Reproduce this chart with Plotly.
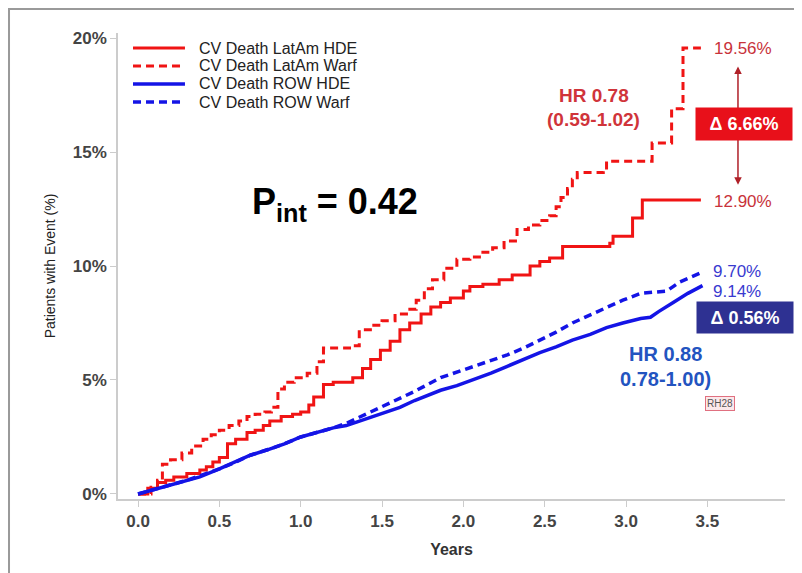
import plotly.graph_objects as go

# ---------------- data ----------------
latam_warf_t = [0, 0.08, 0.12, 0.15, 0.2, 0.27, 0.33, 0.4, 0.45, 0.5, 0.56, 0.62, 0.67, 0.72, 0.78,
                0.82, 0.86, 0.9, 0.96, 1.04, 1.1, 1.14, 1.3, 1.36, 1.44, 1.5, 1.58, 1.65, 1.71, 1.76,
                1.81, 1.88, 1.96, 2.04, 2.12, 2.18, 2.25, 2.33, 2.4, 2.47, 2.53, 2.57, 2.6, 2.64, 2.67,
                2.7, 2.86, 2.88, 3.16, 3.28, 3.35, 3.46]
latam_warf_v = [0, 0.3, 0.6, 1.3, 1.5, 1.8, 2.1, 2.4, 2.6, 2.8, 3.0, 3.2, 3.4, 3.5, 3.6,
                3.8, 4.6, 4.9, 5.1, 5.3, 5.8, 6.4, 6.5, 7.2, 7.4, 7.6, 7.9, 8.1, 8.5, 9.0,
                9.4, 9.9, 10.3, 10.4, 10.6, 10.8, 11.1, 11.6, 11.8, 12.0, 12.2, 12.6, 13.0, 13.4, 13.8,
                14.1, 14.2, 14.6, 15.4, 16.9, 19.56, 19.56]

latam_hde_t = [0, 0.06, 0.12, 0.17, 0.22, 0.3, 0.38, 0.42, 0.46, 0.5, 0.55, 0.6, 0.67, 0.72, 0.77,
               0.81, 0.88, 0.95, 1.0, 1.05, 1.08, 1.14, 1.2, 1.32, 1.38, 1.43, 1.49, 1.55, 1.61, 1.67,
               1.74, 1.8, 1.86, 1.92, 2.0, 2.04, 2.12, 2.22, 2.3, 2.41, 2.47, 2.53, 2.61, 2.9, 2.92,
               3.04, 3.1, 3.46]
latam_hde_v = [0, 0.25, 0.5, 0.6, 0.75, 0.9, 1.05, 1.2, 1.4, 1.6, 2.2, 2.4, 2.7, 2.8, 3.0,
               3.2, 3.4, 3.5, 3.6, 3.9, 4.25, 4.8, 4.9, 5.1, 5.5, 5.9, 6.3, 6.7, 7.2, 7.5,
               7.9, 8.2, 8.4, 8.6, 8.9, 9.1, 9.2, 9.4, 9.6, 10.0, 10.2, 10.35, 10.85, 11.0, 11.3,
               12.1, 12.9, 12.9]

row_hde_t = [0, 0.1, 0.2, 0.3, 0.38, 0.5, 0.6, 0.69, 0.8, 0.9, 1.0, 1.1, 1.2, 1.28, 1.4, 1.5, 1.61,
             1.7, 1.86, 1.96, 2.06, 2.17, 2.27, 2.37, 2.47, 2.57, 2.67, 2.78, 2.88, 2.98, 3.09, 3.15,
             3.2, 3.29, 3.38, 3.47]
row_hde_v = [0, 0.2, 0.4, 0.6, 0.75, 1.1, 1.4, 1.7, 1.95, 2.2, 2.5, 2.7, 2.9, 3.0, 3.3, 3.55, 3.8,
             4.1, 4.55, 4.75, 5.0, 5.3, 5.6, 5.9, 6.2, 6.45, 6.75, 7.0, 7.3, 7.5, 7.7, 7.75,
             8.0, 8.4, 8.8, 9.14]

row_warf_t = [0, 0.1, 0.2, 0.3, 0.38, 0.5, 0.6, 0.69, 0.8, 0.9, 1.0, 1.1, 1.2, 1.28, 1.4, 1.5, 1.61,
              1.7, 1.86, 1.96, 2.06, 2.17, 2.27, 2.37, 2.47, 2.57, 2.67, 2.78, 2.88, 2.98, 3.09, 3.18,
              3.25, 3.33, 3.4, 3.46]
row_warf_v = [0, 0.2, 0.4, 0.6, 0.8, 1.1, 1.4, 1.7, 1.95, 2.2, 2.5, 2.7, 2.9, 3.1, 3.5, 3.85, 4.2,
              4.5, 5.1, 5.35, 5.6, 5.85, 6.1, 6.4, 6.75, 7.1, 7.5, 7.85, 8.2, 8.5, 8.8, 8.85,
              8.9, 9.3, 9.5, 9.7]

series_names = ["CV Death LatAm HDE", "CV Death LatAm Warf", "CV Death ROW HDE", "CV Death ROW Warf"]
final_labels = ["12.90%", "19.56%", "9.14%", "9.70%"]
x_ticks = [0.0, 0.5, 1.0, 1.5, 2.0, 2.5, 3.0, 3.5]
y_ticks = [0, 5, 10, 15, 20]
y_tick_labels = ["<b>0%</b>", "<b>5%</b>", "<b>10%</b>", "<b>15%</b>", "<b>20%</b>"]
x_tick_labels = ["<b>0.0</b>", "<b>0.5</b>", "<b>1.0</b>", "<b>1.5</b>", "<b>2.0</b>", "<b>2.5</b>",
                 "<b>3.0</b>", "<b>3.5</b>"]

RED = "#f01414"
BLUE = "#1414e6"
LABEL_RED = "#c8323a"
LABEL_BLUE = "#3a3ad0"
HR_RED = "#d0343a"
HR_BLUE = "#2354c0"
FONT = "Liberation Sans, Arial, sans-serif"
DASH = "8px,5px"

styles = [dict(color=RED, width=3), dict(color=RED, width=3, dash=DASH),
          dict(color=BLUE, width=3.5), dict(color=BLUE, width=3.5, dash=DASH)]
shapes_kind = ["hv", "hv", "linear", "linear"]
xs = [latam_hde_t, latam_warf_t, row_hde_t, row_warf_t]
ys = [latam_hde_v, latam_warf_v, row_hde_v, row_warf_v]

fig = go.Figure()
for i in range(4):
    fig.add_trace(go.Scatter(x=xs[i], y=ys[i], mode="lines", line_shape=shapes_kind[i],
                             name=series_names[i], line=styles[i], showlegend=False))

ann = []
shapes = []
# legend drawn in paper coordinates (compact rows as in the reference)
leg_rows = [0.9678, 0.9292, 0.8906, 0.8519]
for i in range(4):
    shapes.append(dict(type="line", xref="paper", yref="paper", x0=0.0225, x1=0.1004,
                       y0=leg_rows[i], y1=leg_rows[i], line=styles[i]))
    ann.append(dict(x=0.1184, y=leg_rows[i], xref="paper", yref="paper", text=series_names[i],
                    xanchor="left", yanchor="middle", showarrow=False,
                    font=dict(size=16, color="#222", family=FONT)))

# final value labels
fin = [dict(x=3.53, y=19.56, text=final_labels[1], font=dict(color=LABEL_RED, size=17, family=FONT)),
       dict(x=3.53, y=12.85, text=final_labels[0], font=dict(color=LABEL_RED, size=17, family=FONT)),
       dict(x=3.52, y=9.78, text=final_labels[3], font=dict(color=LABEL_BLUE, size=17, family=FONT)),
       dict(x=3.52, y=8.86, text=final_labels[2], font=dict(color=LABEL_BLUE, size=17, family=FONT))]
for a in fin:
    a.update(xref="x", yref="y", xanchor="left", yanchor="middle", showarrow=False)
ann += fin

# HR labels
ann.append(dict(x=2.80, y=17.5, text="<b>HR 0.78</b>", xref="x", yref="y", showarrow=False,
                font=dict(color=HR_RED, size=19, family=FONT)))
ann.append(dict(x=2.80, y=16.42, text="<b>(0.59-1.02)</b>", xref="x", yref="y", showarrow=False,
                font=dict(color=HR_RED, size=19, family=FONT)))
ann.append(dict(x=3.245, y=6.14, text="<b>HR 0.88</b>", xref="x", yref="y", showarrow=False,
                font=dict(color=HR_BLUE, size=20, family=FONT)))
ann.append(dict(x=3.245, y=5.04, text="<b>0.78-1.00)</b>", xref="x", yref="y", showarrow=False,
                font=dict(color=HR_BLUE, size=20, family=FONT)))

# double arrow between LatAm final values
ann.append(dict(x=3.688, y=18.75, ax=3.688, ay=13.5, xref="x", yref="y", axref="x", ayref="y",
                text="", showarrow=True, arrowhead=2, startarrowhead=2, arrowside="end+start",
                arrowwidth=1.5, arrowcolor="#b02028", arrowsize=1))

# delta boxes
ann.append(dict(x=3.725, y=16.22, xref="x", yref="y", text="<b>\u0394 6.66%</b>", showarrow=False,
                bgcolor="#e8101a", width=94, height=30, font=dict(color="white", size=18, family=FONT)))
ann.append(dict(x=3.73, y=7.72, xref="x", yref="y", text="<b>\u0394 0.56%</b>", showarrow=False,
                bgcolor="#2e3192", width=94, height=29,
                font=dict(color="white", size=18, family=FONT)))

# P interaction
ann.append(dict(x=1.21, y=12.7, xref="x", yref="y", text="<b>P<sub>int</sub> = 0.42</b>", showarrow=False,
                font=dict(color="black", size=36, family=FONT)))

# small RH28 tag
ann.append(dict(x=3.58, y=3.95, xref="x", yref="y", text="RH28", showarrow=False,
                font=dict(color="#555", size=10, family=FONT), bordercolor="#e07080", borderwidth=1,
                bgcolor="#fbe8ea", borderpad=1))

# outer frame
shapes.append(dict(type="rect", xref="paper", yref="paper", x0=-0.1634, x1=1.0195, y0=-0.2, y1=1.0516,
                   line=dict(color="#9a9a9a", width=2), fillcolor="rgba(0,0,0,0)", layer="below"))

# the page body adds an 8px offset, so the figure is 8px smaller than the window
fig.update_layout(
    width=794, height=565,
    margin=dict(l=110, r=17, t=25, b=74),
    paper_bgcolor="white", plot_bgcolor="white",
    font=dict(family=FONT, color="#333"),
    showlegend=False,
    annotations=ann,
    shapes=shapes,
)

fig.update_xaxes(range=[-0.123, 3.977], tickvals=x_ticks, ticktext=x_tick_labels,
                 showline=True, linecolor="#cccccc", linewidth=1.5, mirror=False,
                 ticks="outside", ticklen=6, tickcolor="#cccccc", showgrid=False, zeroline=False,
                 tickfont=dict(size=17, color="#444", family=FONT),
                 title=dict(text="<b>Years</b>", font=dict(size=16, color="#333", family=FONT), standoff=14))
fig.update_yaxes(range=[-0.22, 20.22], tickvals=y_ticks, ticktext=y_tick_labels,
                 showline=True, linecolor="#cccccc", linewidth=1.5,
                 ticks="outside", ticklen=6, tickcolor="#cccccc", showgrid=False, zeroline=False,
                 tickfont=dict(size=17, color="#444", family=FONT),
                 title=dict(text="Patients with Event (%)", font=dict(size=14, color="#222", family=FONT),
                            standoff=14))

fig.write_html("out.html")
